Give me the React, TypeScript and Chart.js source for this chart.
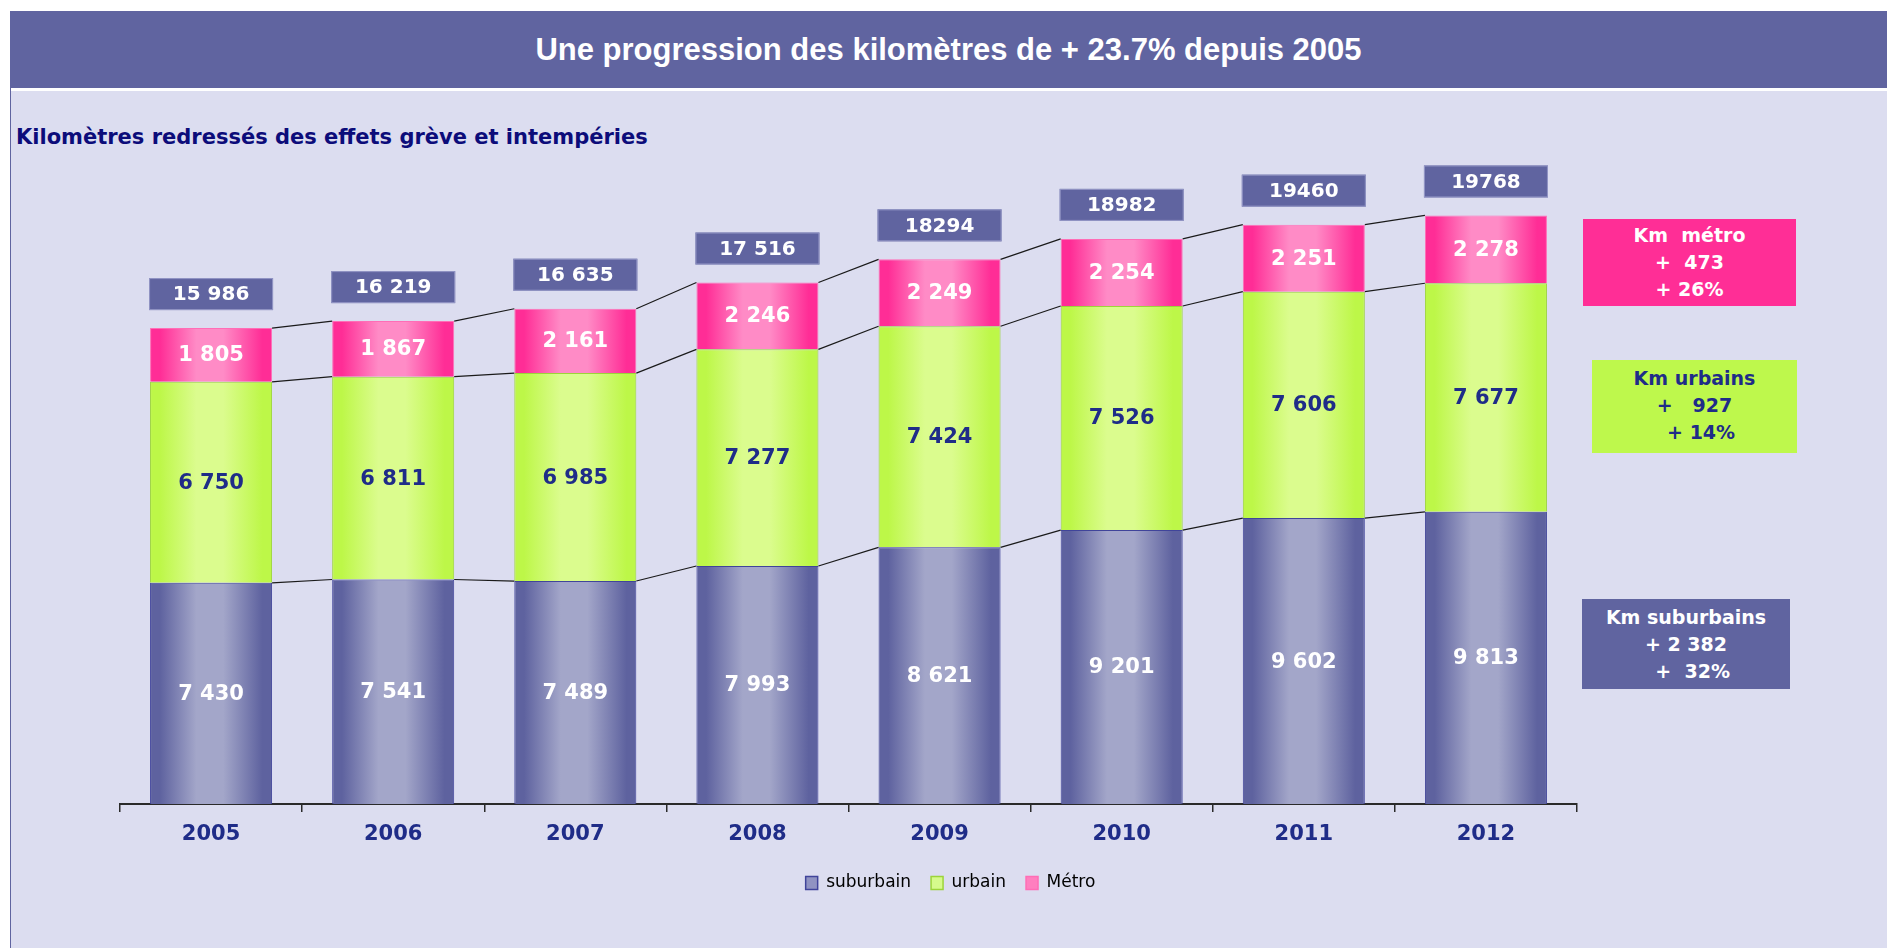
import React, { useEffect, useRef } from 'react';
import { Chart, registerables } from 'chart.js';

Chart.register(...registerables);

// ---------- data ----------
const years = ['2005', '2006', '2007', '2008', '2009', '2010', '2011', '2012'];
const suburbain = [7430, 7541, 7489, 7993, 8621, 9201, 9602, 9813];
const urbain = [6750, 6811, 6985, 7277, 7424, 7526, 7606, 7677];
const metro = [1805, 1867, 2161, 2246, 2249, 2254, 2251, 2278];
const totalLabels = ['15 986', '16 219', '16 635', '17 516', '18294', '18982', '19460', '19768'];
const seriesNames = ['suburbain', 'urbain', 'Métro'];

const titleText = 'Une progression des kilomètres de + 23.7% depuis 2005';
const subtitleText = 'Kilomètres redressés des effets grève et intempéries';
const metroNote = ['Km  métro', '+  473', '+ 26%'];
const urbainNote = ['Km urbains', '+   927', '  + 14%'];
const suburbainNote = ['Km suburbains', '+ 2 382', '  +  32%'];

// ---------- styles ----------
const FONT = '"DejaVu Sans", Verdana, sans-serif';
const NAVY = '#1F2C88';
const BAR_PCT = 0.67;
const BG = '#DCDDF0';
const DARK = '#6064A0';

const palettes = [
  { edge: '#5E629F', light: '#A3A6C9', border: '#40449A', legendFill: '#9093C2', label: '#FFFFFF' },
  { edge: '#BDF748', light: '#DBFC8E', border: '#9CD43A', legendFill: '#D6FA8C', label: NAVY },
  { edge: '#FF2D96', light: '#FF8BC6', border: '#FF6DB6', legendFill: '#FF7FBF', label: '#FFFFFF' },
];

function fmt(n: number): string {
  return String(n).replace(/\B(?=(\d{3})+(?!\d))/g, ' ');
}

function gradientFor(p: any) {
  return (ctx: any) => {
    const chart = ctx.chart;
    const xs = chart.scales && chart.scales.x;
    if (ctx.type !== 'data' || !xs) return p.edge;
    const cx = xs.getPixelForValue(ctx.dataIndex);
    const w = (xs.width / years.length) * BAR_PCT;
    if (!isFinite(cx) || !isFinite(w) || w <= 0) return p.edge;
    const g = chart.ctx.createLinearGradient(cx - w / 2, 0, cx + w / 2, 0);
    g.addColorStop(0, p.edge);
    g.addColorStop(0.08, p.edge);
    g.addColorStop(0.38, p.light);
    g.addColorStop(0.6, p.light);
    g.addColorStop(0.92, p.edge);
    g.addColorStop(1, p.edge);
    return g;
  };
}

const overlayPlugin = {
  id: 'overlay',
  afterDatasetsDraw(chart: any) {
    const ctx = chart.ctx;
    const metas = [0, 1, 2].map((i) => chart.getDatasetMeta(i));
    ctx.save();
    // series lines between bars
    ctx.strokeStyle = '#1a1a1a';
    ctx.lineWidth = 1.2;
    metas.forEach((meta: any) => {
      for (let i = 0; i < meta.data.length - 1; i++) {
        const a = meta.data[i];
        const b = meta.data[i + 1];
        ctx.beginPath();
        ctx.moveTo(a.x + a.width / 2, a.y);
        ctx.lineTo(b.x - b.width / 2, b.y);
        ctx.stroke();
      }
    });
    // value labels
    ctx.textAlign = 'center';
    ctx.textBaseline = 'middle';
    ctx.font = `bold 21px ${FONT}`;
    metas.forEach((meta: any, d: number) => {
      const data = chart.data.datasets[d].data;
      meta.data.forEach((el: any, i: number) => {
        ctx.fillStyle = palettes[d].label;
        ctx.fillText(fmt(data[i]), el.x, (el.y + el.base) / 2 + 1);
      });
    });
    // total boxes
    const w = 124;
    const h = 32;
    metas[2].data.forEach((el: any, i: number) => {
      const bottom = el.y - 18;
      ctx.fillStyle = DARK;
      ctx.fillRect(el.x - w / 2, bottom - h, w, h);
      ctx.strokeStyle = '#9497C6';
      ctx.lineWidth = 1;
      ctx.strokeRect(el.x - w / 2 + 0.5, bottom - h + 0.5, w - 1, h - 1);
      ctx.fillStyle = '#FFFFFF';
      ctx.font = `bold 20px ${FONT}`;
      ctx.fillText(totalLabels[i], el.x, bottom - h / 2 + 1);
    });
    ctx.restore();
  },
};

function NoteBox(props: { lines: string[]; left: number; top: number; width: number; height: number; bg: string; color: string; padTop: number }) {
  const { lines, left, top, width, height, bg, color, padTop } = props;
  return (
    <div
      style={{
        position: 'absolute',
        left,
        top,
        width,
        height,
        background: bg,
        color,
        boxSizing: 'border-box',
        paddingTop: padTop,
        fontFamily: FONT,
        fontWeight: 'bold',
        fontSize: 19,
        lineHeight: '27px',
        textAlign: 'center',
        whiteSpace: 'pre',
      }}
    >
      {lines.map((l, i) => (
        <div key={i}>{l}</div>
      ))}
    </div>
  );
}

export default function App() {
  const canvasRef = useRef<HTMLCanvasElement | null>(null);

  useEffect(() => {
    const canvas = canvasRef.current;
    if (!canvas) return;
    const seriesData = [suburbain, urbain, metro];
    const chart = new Chart(canvas, {
      type: 'bar',
      data: {
        labels: years,
        datasets: seriesData.map((values, d) => ({
          label: seriesNames[d],
          data: values,
          backgroundColor: gradientFor(palettes[d]) as any,
          borderColor: palettes[d].border,
          borderWidth: 1,
          categoryPercentage: 1,
          barPercentage: BAR_PCT,
          stack: 'km',
        })),
      },
      options: {
        animation: false,
        responsive: false,
        devicePixelRatio: 1,
        layout: { padding: { left: 14, right: 0, top: 149, bottom: 46.5 } },
        plugins: {
          title: { display: false },
          tooltip: { enabled: false },
          legend: {
            display: true,
            position: 'bottom',
            labels: {
              color: '#000000',
              font: { family: FONT, size: 17 },
              boxWidth: 12,
              boxHeight: 13,
              padding: 20,
              generateLabels: () =>
                seriesNames.map((name, d) => ({
                  text: name,
                  fillStyle: palettes[d].legendFill,
                  strokeStyle: palettes[d].border,
                  lineWidth: 1.5,
                  hidden: false,
                  datasetIndex: d,
                })),
            },
          },
        },
        scales: {
          x: {
            stacked: true,
            grid: {
              display: true,
              drawOnChartArea: false,
              drawTicks: true,
              tickLength: 8,
              color: '#2a2a2a',
              lineWidth: 1.5,
              offset: true,
            },
            border: { display: true, color: '#2a2a2a', width: 2 },
            ticks: {
              color: NAVY,
              font: { family: FONT, size: 21, weight: 'bold' },
              padding: 10,
              maxRotation: 0,
            },
            afterFit: (s: any) => {
              s.height = 50.5;
            },
          },
          y: {
            stacked: true,
            min: 0,
            max: 22000,
            display: true,
            grid: { display: false },
            border: { display: false },
            ticks: { display: false },
            afterFit: (s: any) => {
              s.width = 106;
            },
          },
          y2: {
            position: 'right',
            display: true,
            grid: { display: false },
            border: { display: false },
            ticks: { display: false },
            afterFit: (s: any) => {
              s.width = 310;
            },
          },
        },
      } as any,
      plugins: [overlayPlugin],
    });
    return () => chart.destroy();
  }, []);

  return (
    <div style={{ position: 'absolute', left: 0, top: 0, width: 1887, height: 948, background: '#FFFFFF', overflow: 'hidden' }}>
      <div style={{ position: 'absolute', left: 10, top: 91, right: 0, bottom: 0, background: BG }} />
      <div style={{ position: 'absolute', left: 10, top: 11, width: 1, bottom: 0, background: DARK }} />
      <div
        style={{
          position: 'absolute',
          left: 10,
          top: 11,
          right: 0,
          height: 77,
          background: DARK,
          color: '#FFFFFF',
          display: 'flex',
          alignItems: 'center',
          justifyContent: 'center',
          fontFamily: '"Liberation Sans", Arial, sans-serif',
          fontWeight: 'bold',
          fontSize: 31,
        }}
      >
        {titleText}
      </div>
      <div
        style={{
          position: 'absolute',
          left: 16,
          top: 125,
          lineHeight: '24px',
          fontFamily: FONT,
          fontWeight: 'bold',
          fontSize: 21,
          color: '#0C0C7A',
          whiteSpace: 'nowrap',
        }}
      >
        {subtitleText}
      </div>
      <NoteBox lines={metroNote} left={1583} top={219} width={213} height={87} bg="#FF2E96" color="#FFFFFF" padTop={3} />
      <NoteBox lines={urbainNote} left={1592} top={360} width={205} height={93} bg="#BEF84C" color={NAVY} padTop={5} />
      <NoteBox lines={suburbainNote} left={1582} top={599} width={208} height={90} bg={DARK} color="#FFFFFF" padTop={5} />
      <canvas ref={canvasRef} width={1887} height={948} style={{ position: 'absolute', left: 0, top: 0, width: 1887, height: 948 }} />
    </div>
  );
}
